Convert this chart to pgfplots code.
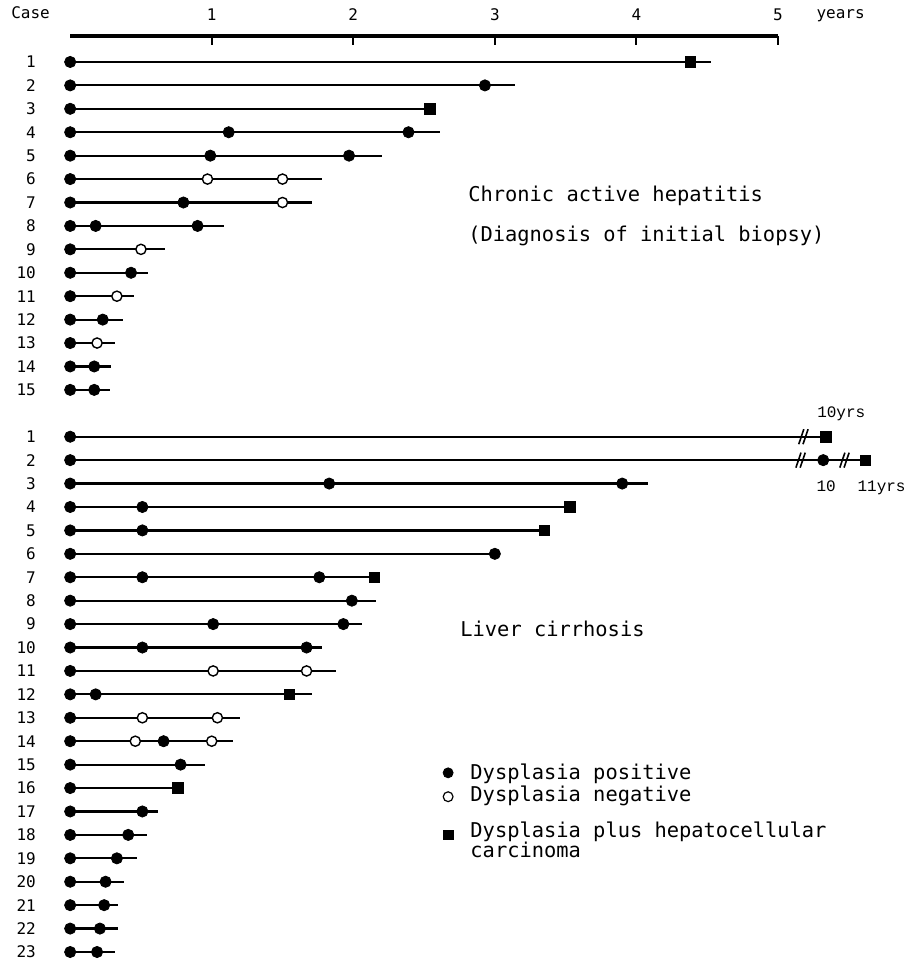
\documentclass[border=0pt]{standalone}
\usepackage{pgfplots}
\pgfplotsset{compat=1.18}
\usepackage{fontspec}
\setmainfont{DejaVu Sans Mono}
\newfontfamily\yrsfont{Liberation Mono}
\newcommand\mainsize{\fontsize{10.2}{12}\selectfont}
\newcommand\smallsize{\fontsize{8}{9.6}\selectfont}
\tikzset{lbl/.style={anchor=base west, inner sep=0pt, font=\mainsize}}
\pgfplotsset{
  rowline/.style={black, line width=1.1pt, mark=none},
  dpos/.style={only marks, mark=*, mark size=2.8pt, mark options={fill=black, draw=black}},
  dneg/.style={only marks, mark=*, mark size=2.55pt, mark options={fill=white, draw=black, line width=0.7pt}},
  dhcc/.style={only marks, mark=square*, mark size=2.6pt, mark options={fill=black, draw=black}},
}
\begin{document}
\begin{tikzpicture}
\begin{axis}[
  name=main,
  x=70.8pt, y=11.715pt, y dir=reverse,
  xmin=-0.4944, xmax=6.1723, ymin=-1.646, ymax=39.427,
  axis x line=none, axis y line*=left,
  axis line style={draw=none},
  xtick=\empty,
  ytick={1,2,3,4,5,6,7,8,9,10,11,12,13,14,15,17,18,19,20,21,22,23,24,25,26,27,28,29,30,31,32,33,34,35,36,37,38,39},
  yticklabels={1,2,3,4,5,6,7,8,9,10,11,12,13,14,15,1,2,3,4,5,6,7,8,9,10,11,12,13,14,15,16,17,18,19,20,21,22,23},
  major tick length=0pt,
  yticklabel style={font=\smallsize, anchor=east, inner sep=0pt, xshift=18pt},
  clip=false, unbounded coords=jump,
]
% follow-up lines, one per case
\addplot[rowline] coordinates {
(0,1)(4.53,1) (nan,nan)
(0,2)(3.14,2) (nan,nan)
(0,3)(2.54,3) (nan,nan)
(0,4)(2.61,4) (nan,nan)
(0,5)(2.20,5) (nan,nan)
(0,6)(1.78,6) (nan,nan)
(0,7)(1.71,7) (nan,nan)
(0,8)(1.09,8) (nan,nan)
(0,9)(0.67,9) (nan,nan)
(0,10)(0.55,10) (nan,nan)
(0,11)(0.45,11) (nan,nan)
(0,12)(0.37,12) (nan,nan)
(0,13)(0.32,13) (nan,nan)
(0,14)(0.29,14) (nan,nan)
(0,15)(0.28,15) (nan,nan)
(0,17)(5.34,17) (nan,nan)
(0,18)(5.62,18) (nan,nan)
(0,19)(4.08,19) (nan,nan)
(0,20)(3.53,20) (nan,nan)
(0,21)(3.35,21) (nan,nan)
(0,22)(3.00,22) (nan,nan)
(0,23)(2.15,23) (nan,nan)
(0,24)(2.16,24) (nan,nan)
(0,25)(2.06,25) (nan,nan)
(0,26)(1.78,26) (nan,nan)
(0,27)(1.88,27) (nan,nan)
(0,28)(1.71,28) (nan,nan)
(0,29)(1.20,29) (nan,nan)
(0,30)(1.15,30) (nan,nan)
(0,31)(0.95,31) (nan,nan)
(0,32)(0.76,32) (nan,nan)
(0,33)(0.62,33) (nan,nan)
(0,34)(0.54,34) (nan,nan)
(0,35)(0.47,35) (nan,nan)
(0,36)(0.38,36) (nan,nan)
(0,37)(0.34,37) (nan,nan)
(0,38)(0.34,38) (nan,nan)
(0,39)(0.32,39)
};
% axis breaks (//)
\addplot[black, line width=0.8pt, mark=none] coordinates {
(5.147,17.32)(5.183,16.68) (nan,nan)
(5.177,17.32)(5.213,16.68) (nan,nan)
(5.127,18.32)(5.163,17.68) (nan,nan)
(5.157,18.32)(5.193,17.68) (nan,nan)
(5.437,18.32)(5.473,17.68) (nan,nan)
(5.467,18.32)(5.503,17.68)
};
% dysplasia positive
\addplot[dpos] coordinates {
(0,1)(0,2)(0,3)(0,4)(0,5)(0,6)(0,7)(0,8)(0,9)(0,10)(0,11)(0,12)(0,13)(0,14)(0,15)
(2.93,2)(1.12,4)(2.39,4)(0.99,5)(1.97,5)(0.80,7)(0.18,8)(0.90,8)(0.43,10)(0.23,12)(0.17,14)(0.17,15)
(0,17)(0,18)(0,19)(0,20)(0,21)(0,22)(0,23)(0,24)(0,25)(0,26)(0,27)(0,28)(0,29)(0,30)(0,31)(0,32)(0,33)(0,34)(0,35)(0,36)(0,37)(0,38)(0,39)
(5.32,18)(1.83,19)(3.90,19)(0.51,20)(0.51,21)(3.00,22)(0.51,23)(1.76,23)(1.99,24)
(1.01,25)(1.93,25)(0.51,26)(1.67,26)(0.18,28)(0.66,30)(0.78,31)
(0.51,33)(0.41,34)(0.33,35)(0.25,36)(0.24,37)(0.21,38)(0.19,39)
};
% dysplasia negative
\addplot[dneg] coordinates {
(0.97,6)(1.50,6)(1.50,7)(0.50,9)(0.33,11)(0.19,13)
(1.01,27)(1.67,27)(0.51,29)(1.04,29)(0.46,30)(1.00,30)
};
% dysplasia plus HCC
\addplot[dhcc] coordinates {
(4.38,1)(2.54,3)
(5.34,17)(5.62,18)(3.53,20)(3.35,21)(2.15,23)(1.55,28)(0.76,32)
};
% key
\addplot[only marks, mark=*, mark size=2.5pt, mark options={fill=black}] coordinates {(2.67,31.35)};
\addplot[only marks, mark=*, mark size=2.45pt, mark options={fill=white, draw=black, line width=0.6pt}] coordinates {(2.67,32.37)};
\addplot[only marks, mark=square*, mark size=2.4pt, mark options={fill=black}] coordinates {(2.67,34.0)};

\node[lbl] at (axis cs:2.81,6.975) {Chronic active hepatitis};
\node[lbl] at (axis cs:2.81,8.68) {(Diagnosis of initial biopsy)};
\node[lbl] at (axis cs:2.754,25.54) {Liver cirrhosis};
\node[lbl] at (axis cs:2.825,31.64) {Dysplasia positive};
\node[lbl] at (axis cs:2.825,32.58) {Dysplasia negative};
\node[lbl] at (axis cs:2.825,34.10) {Dysplasia plus hepatocellular};
\node[lbl] at (axis cs:2.825,34.97) {carcinoma};

\node[anchor=base west, inner sep=0pt, font=\yrsfont\smallsize] at (axis cs:5.275,16.19) {10yrs};
\node[anchor=base west, inner sep=0pt, font=\yrsfont\smallsize] at (axis cs:5.27,19.35) {10};
\node[anchor=base west, inner sep=0pt, font=\yrsfont\smallsize] at (axis cs:5.56,19.35) {11yrs};

\node[anchor=base, inner sep=0pt, font=\smallsize] at (axis cs:-0.28,-0.85) {Case};
\node[anchor=base west, inner sep=0pt, font=\smallsize] at (axis cs:5.27,-0.85) {years};

\coordinate (o) at (axis cs:0,-0.11);
\end{axis}
\begin{axis}[
  at={(o)}, anchor=north west,
  x=70.8pt, y=1pt, xmin=0, xmax=5, ymin=0, ymax=1,
  axis x line*=top, axis y line=none, ytick=\empty,
  xtick={1,2,3,4,5},
  tick align=inside, major tick length=4.5pt,
  x axis line style={line width=1.8pt},
  tick style={black, line width=1.1pt},
  xticklabel style={font=\smallsize, yshift=4pt},
  /pgf/number format/assume math mode=true,
]
\end{axis}
\end{tikzpicture}
\end{document}
